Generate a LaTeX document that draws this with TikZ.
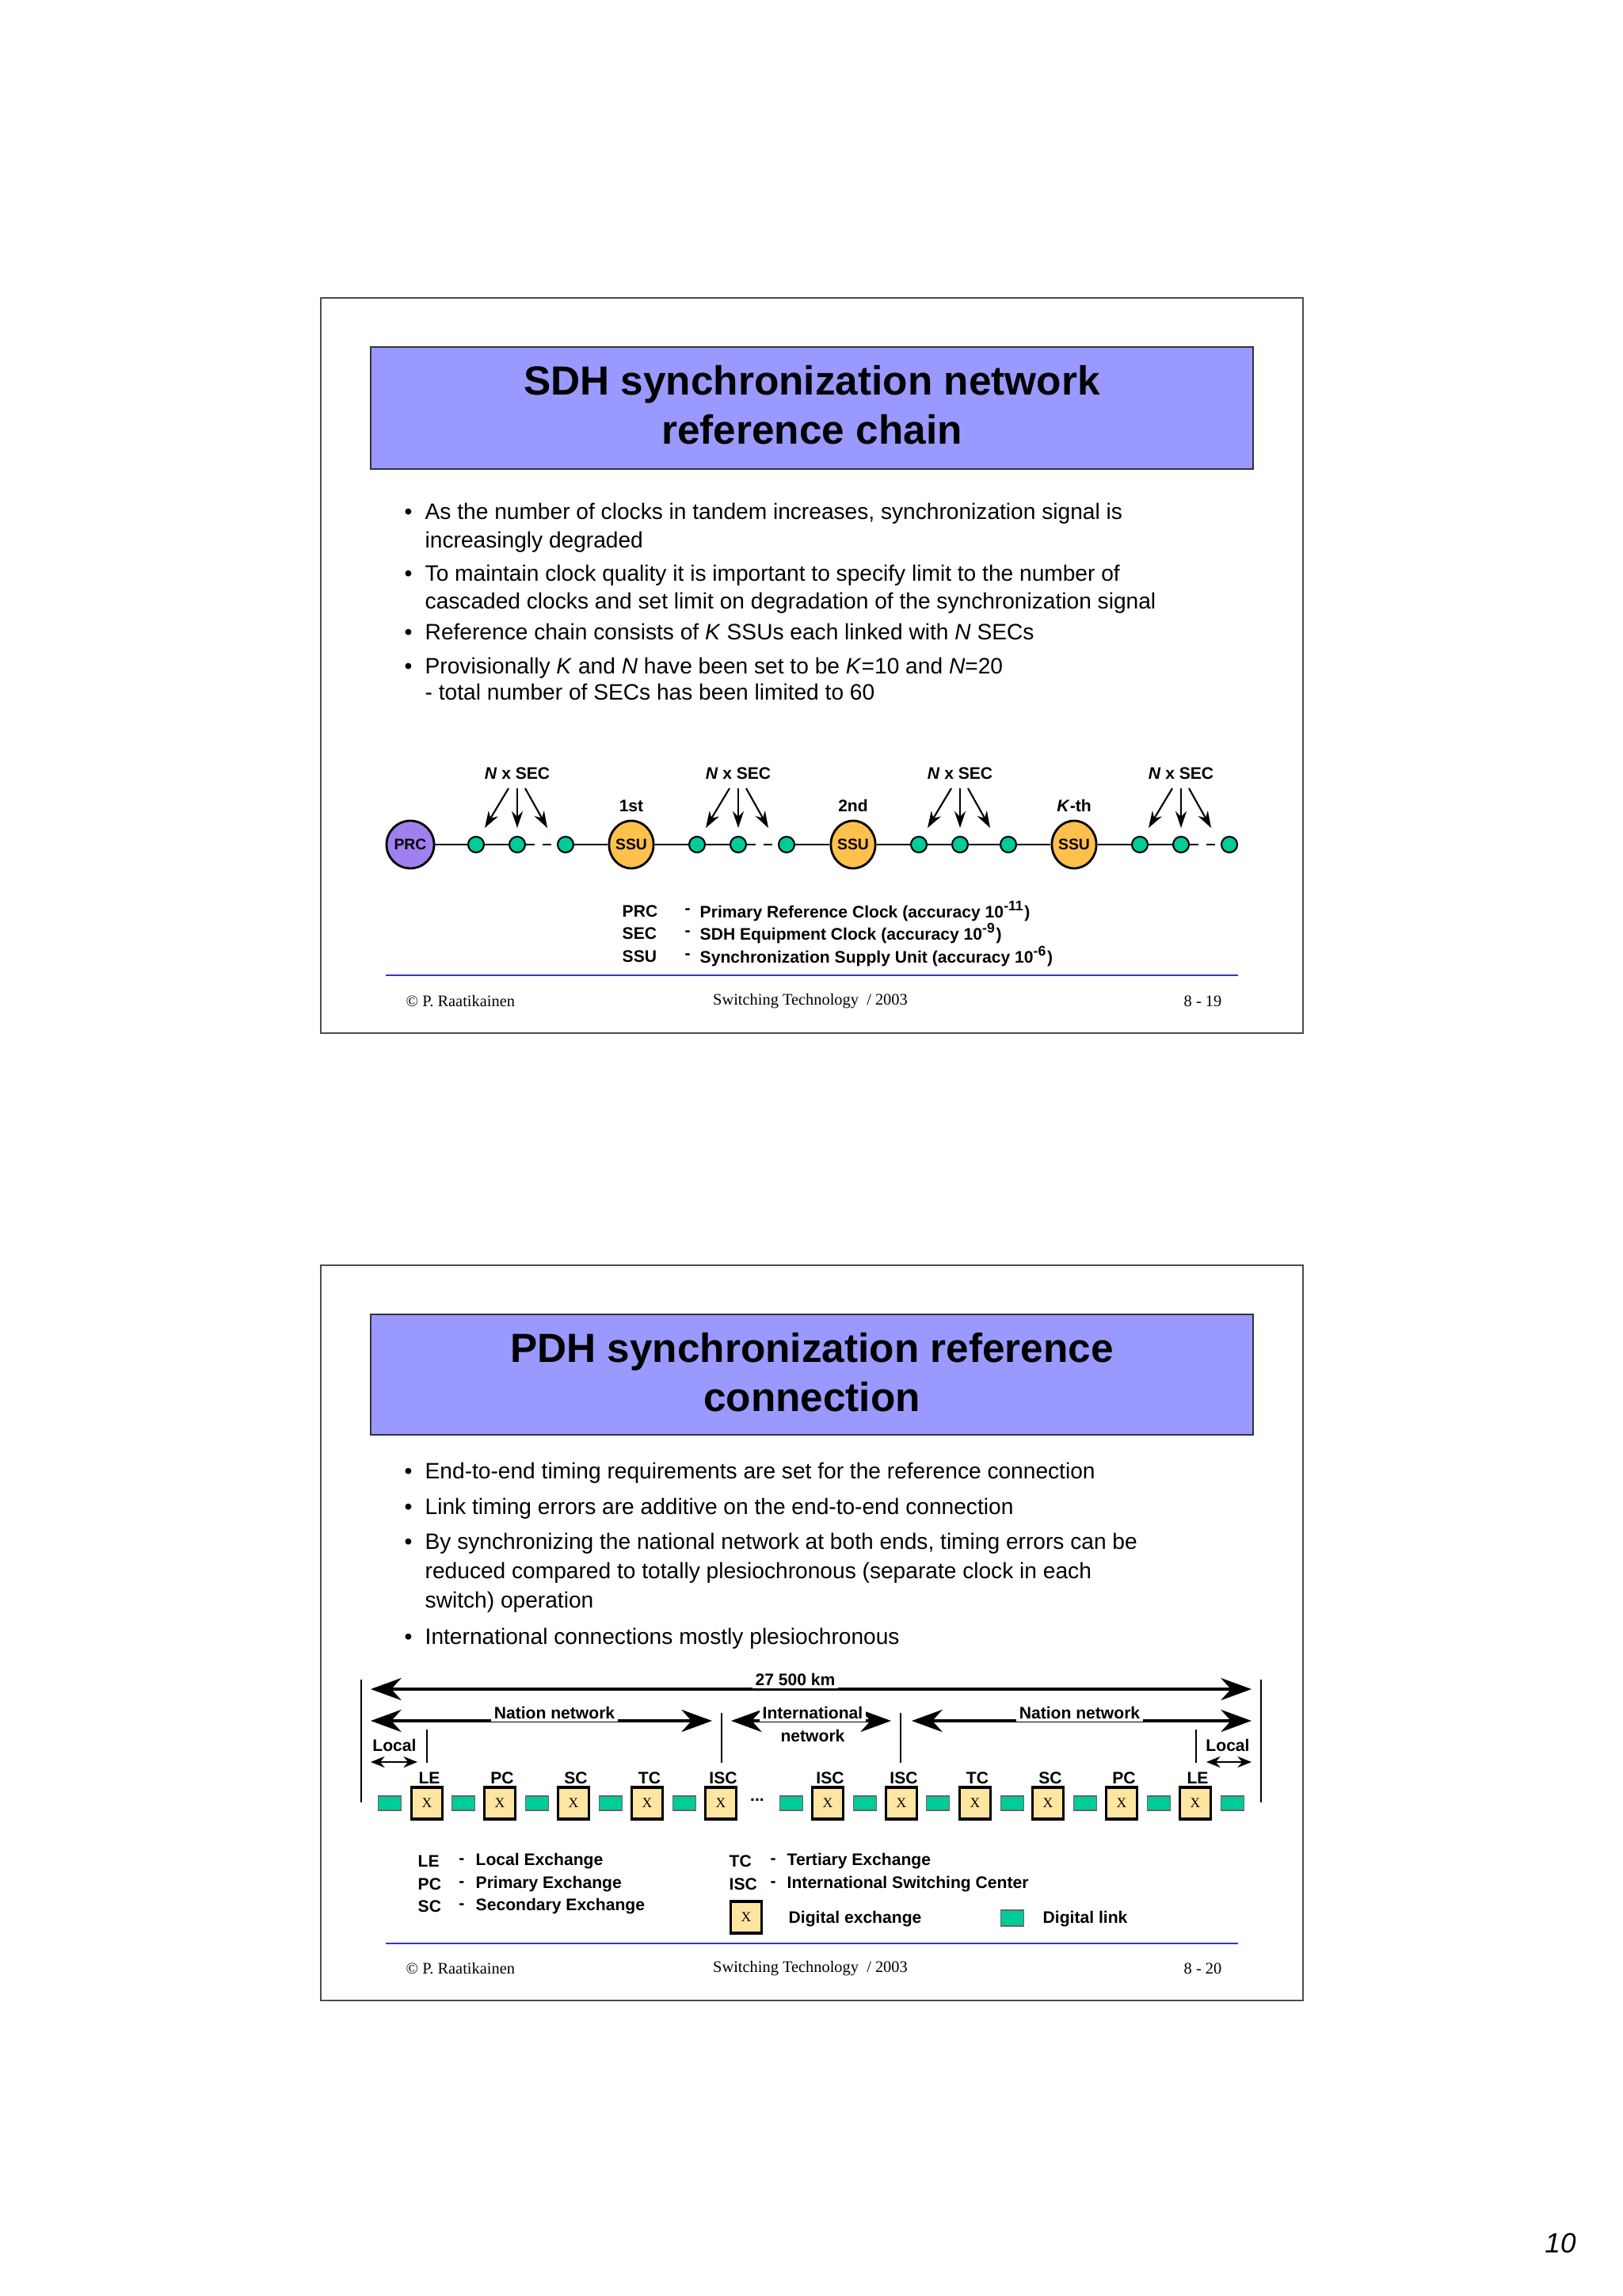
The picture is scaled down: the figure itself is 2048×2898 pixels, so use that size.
\documentclass[tikz,border=0pt]{standalone}
\usepackage{fontspec}
\setmainfont{Liberation Sans}
\newfontfamily\serf{Liberation Serif}
\usetikzlibrary{arrows.meta}
\definecolor{ttl}{HTML}{9999FF}
\definecolor{ssuc}{HTML}{FFC04C}
\definecolor{prcc}{HTML}{A080F0}
\definecolor{grn}{HTML}{00CC99}
\definecolor{exy}{HTML}{FFE6A0}
\definecolor{bline}{HTML}{3333CC}
\begin{document}
\begin{tikzpicture}[x=0.01cm,y=-0.01cm,
 frame/.style={draw=black!70,line width=0.5pt},
 titlebox/.style={draw=black!80,fill=ttl,line width=0.5pt},
 ttext/.style={font=\fontsize{14.6}{17.5}\selectfont\bfseries,align=center},
 btext/.style={font=\fontsize{8}{9.6}\selectfont,anchor=base west,inner sep=0},
 small/.style={font=\fontsize{6}{7}\selectfont\bfseries,inner sep=0},
 foot/.style={font=\serf\fontsize{5.8}{7}\selectfont,inner sep=0},
 dotn/.style={circle,draw=black,fill=grn,minimum size=0.2cm,inner sep=0,line width=0.6pt},
 ssun/.style={ellipse,draw=black,fill=ssuc,minimum width=0.56cm,minimum height=0.6cm,inner sep=0,line width=0.8pt,font=\fontsize{5.5}{6}\selectfont\bfseries},
 exn/.style={draw=black,fill=exy,minimum width=0.39cm,minimum height=0.40cm,inner sep=0,line width=1pt,font=\serf\fontsize{5}{6}\selectfont},
 lnk/.style={draw=black!60,fill=grn,minimum width=0.29cm,minimum height=0.18cm,inner sep=0,line width=0.4pt},
 arr/.style={-{Stealth[length=9pt,width=7pt]},line width=0.8pt},
 darr/.style={{Stealth[length=11pt,width=8pt]}-{Stealth[length=11pt,width=8pt]},line width=0.9pt},
 sarr/.style={{Stealth[length=5pt,width=4pt]}-{Stealth[length=5pt,width=4pt]},line width=0.6pt},
 sec/.style={-{Stealth[length=6pt,width=4pt]},line width=0.6pt}]
\usetikzlibrary{shapes.geometric}
\fill[white] (0,0) rectangle (2048,2898);
% ===== Slide 1
\draw[frame] (405,376) rectangle (1645,1304);
\draw[titlebox] (468,438) rectangle (1582,592);
\node[ttext] (t1) at (1025,511) {SDH synchronization network\\reference chain};
\foreach \y/\txt/\b in {647/{As the number of clocks in tandem increases, synchronization signal is}/1,
 683/{increasingly degraded}/0,
 725/{To maintain clock quality it is important to specify limit to the number of}/1,
 760/{cascaded clocks and set limit on degradation of the synchronization signal}/0,
 799/{Reference chain consists of \textit{K} SSUs each linked with \textit{N} SECs}/1,
 842/{Provisionally \textit{K} and \textit{N} have been set to be \textit{K}=10 and \textit{N}=20}/1,
 875/{- total number of SECs has been limited to 60}/0}{
 \node[btext] at (536,\y+9) {\txt};
 \ifnum\b=1 \node[btext] at (510,\y+9) {•};\fi
}
% chain
\node[ellipse,draw=black,fill=prcc,minimum width=0.6cm,minimum height=0.6cm,inner sep=0,line width=0.8pt,font=\fontsize{5.5}{6}\selectfont\bfseries] (prc) at (518,1066) {PRC};
\node[ssun] (s1) at (797,1066) {SSU};
\node[ssun] (s2) at (1077,1066) {SSU};
\node[ssun] (s3) at (1356,1066) {SSU};
\foreach \a/\g in {518/g0,797/g1,1077/g2,1356/g3}{
 \node[dotn] (\g a) at (\a+83,1066) {};
 \node[dotn] (\g b) at (\a+135,1066) {};
 \node[dotn] (\g c) at (\a+196,1066) {};
 \node[small] at (\a+135,976) {\textit{N} x SEC};
 \coordinate (\g t1) at (\a+124,995); \coordinate (\g h1) at (\a+94,1045);
 \coordinate (\g t2) at (\a+135,995); \coordinate (\g h2) at (\a+135,1045);
 \coordinate (\g t3) at (\a+145,995); \coordinate (\g h3) at (\a+173,1045);
 \draw[sec] (\g t1) -- (\g h1);
 \draw[sec] (\g t2) -- (\g h2);
 \draw[sec] (\g t3) -- (\g h3);
 \draw[line width=0.8pt] (\g a) -- (\g b);
}
\draw[line width=0.8pt] (prc) -- (g0a) (g0c) -- (s1) -- (g1a) (g1c) -- (s2) -- (g2a) (g2c) -- (s3) -- (g3a);
\draw[line width=0.8pt,dashed] (g0b) -- (g0c) (g1b) -- (g1c) (g3b) -- (g3c);
\draw[line width=0.8pt] (g2b) -- (g2c);
\node[small] at (797,1017) {1st};
\node[small] at (1077,1017) {2nd};
\node[small] at (1356,1017) {\textit{K}-th};
\foreach \y/\a/\b in {1150/PRC/{Primary Reference Clock (accuracy 10\textsuperscript{-11})},
 1178/SEC/{SDH Equipment Clock (accuracy 10\textsuperscript{-9})},
 1207/SSU/{Synchronization Supply Unit (accuracy 10\textsuperscript{-6})}}{
 \node[small,anchor=west] at (785,\y) {\a};
 \node[small] at (868,\y) {-};
 \node[small,anchor=west] at (883,\y) {\b};
}
\draw[bline,line width=0.8pt] (487,1231) -- (1563,1231);
\node[foot,anchor=west] at (512,1264) {© P. Raatikainen};
\node[foot] at (1023,1264) {Switching Technology~~/ 2003};
\node[foot,anchor=east] at (1543,1264) {8 - 19};
% ===== Slide 2
\draw[frame] (405,1597) rectangle (1645,2525);
\draw[titlebox] (468,1659) rectangle (1582,1811);
\node[ttext] (t2) at (1025,1732) {PDH synchronization reference\\connection};
\foreach \y/\txt/\b in {1857/{End-to-end timing requirements are set for the reference connection}/1,
 1902/{Link timing errors are additive on the end-to-end connection}/1,
 1946/{By synchronizing the national network at both ends, timing errors can be}/1,
 1983/{reduced compared to totally plesiochronous (separate clock in each}/0,
 2020/{switch) operation}/0,
 2066/{International connections mostly plesiochronous}/1}{
 \node[btext] at (536,\y+9) {\txt};
 \ifnum\b=1 \node[btext] at (510,\y+9) {•};\fi
}
% dimension lines
\coordinate (A0) at (468,2132); \coordinate (A1) at (1580,2132);
\draw[darr] (A0) -- (A1);
\node[small,fill=white,inner sep=1pt] at (1004,2120) {27 500 km};
\draw[line width=0.5pt] (456,2120) -- (456,2275) (1592,2120) -- (1592,2275);
\coordinate (N0) at (468,2172); \coordinate (N1) at (899,2172);
\draw[darr] (N0) -- (N1);
\node[small,fill=white,inner sep=1pt] at (700,2162) {Nation network};
\draw[line width=0.5pt] (911,2162) -- (911,2225) (1137,2162) -- (1137,2225);
\coordinate (I0) at (923,2172); \coordinate (I1) at (1125,2172);
\draw[darr] (I0) -- (I1);
\node[small,fill=white,inner sep=1pt] at (1026,2162) {International};
\node[small] at (1026,2191) {network};
\coordinate (M0) at (1151,2172); \coordinate (M1) at (1580,2172);
\draw[darr] (M0) -- (M1);
\node[small,fill=white,inner sep=1pt] at (1363,2162) {Nation network};
\node[small] at (498,2203) {Local};
\coordinate (L0) at (468,2224); \coordinate (L1) at (527,2224);
\draw[sarr] (L0) -- (L1);
\draw[line width=0.5pt] (539,2183) -- (539,2225) (1510,2183) -- (1510,2225);
\node[small] at (1550,2203) {Local};
\coordinate (R0) at (1523,2224); \coordinate (R1) at (1580,2224);
\draw[sarr] (R0) -- (R1);
% exchanges
\foreach \x/\l [count=\i] in {539/LE,631/PC,724/SC,817/TC,910/ISC,1045/ISC,1138/ISC,1231/TC,1323/SC,1416/PC,1509/LE}{
 \node[exn] (e\i) at (\x,2276) {X};
 \node[small] at (\x+3,2244) {\l};
}
\foreach \x [count=\i] in {492,585,678,771,864,999,1092,1184,1278,1370,1463,1556}{
 \node[lnk] (k\i) at (\x,2276) {};
}
\node[small] (dots) at (956,2272) {...};
% legend
\foreach \y/\a/\b in {2349/LE/Local Exchange,2378/PC/Primary Exchange,2406/SC/Secondary Exchange}{
 \node[small,anchor=west] at (527,\y) {\a};
 \node[small] at (583,\y) {-};
 \node[small,anchor=west] at (600,\y) {\b};
}
\foreach \y/\a/\b in {2349/TC/Tertiary Exchange,2378/ISC/International Switching Center}{
 \node[small,anchor=west] at (920,\y) {\a};
 \node[small] at (976,\y) {-};
 \node[small,anchor=west] at (993,\y) {\b};
}
\node[exn] (legx) at (942,2420) {X};
\node[small,anchor=west] at (995,2422) {Digital exchange};
\node[lnk,minimum width=0.29cm,minimum height=0.2cm] (legl) at (1278,2421) {};
\node[small,anchor=west] at (1316,2422) {Digital link};
\draw[bline,line width=0.8pt] (487,2453) -- (1563,2453);
\node[foot,anchor=west] at (512,2485) {© P. Raatikainen};
\node[foot] at (1023,2485) {Switching Technology~~/ 2003};
\node[foot,anchor=east] at (1543,2485) {8 - 20};
\node[font=\fontsize{10}{12}\selectfont\itshape] (pg) at (1970,2831) {10};
\end{tikzpicture}
\end{document}
